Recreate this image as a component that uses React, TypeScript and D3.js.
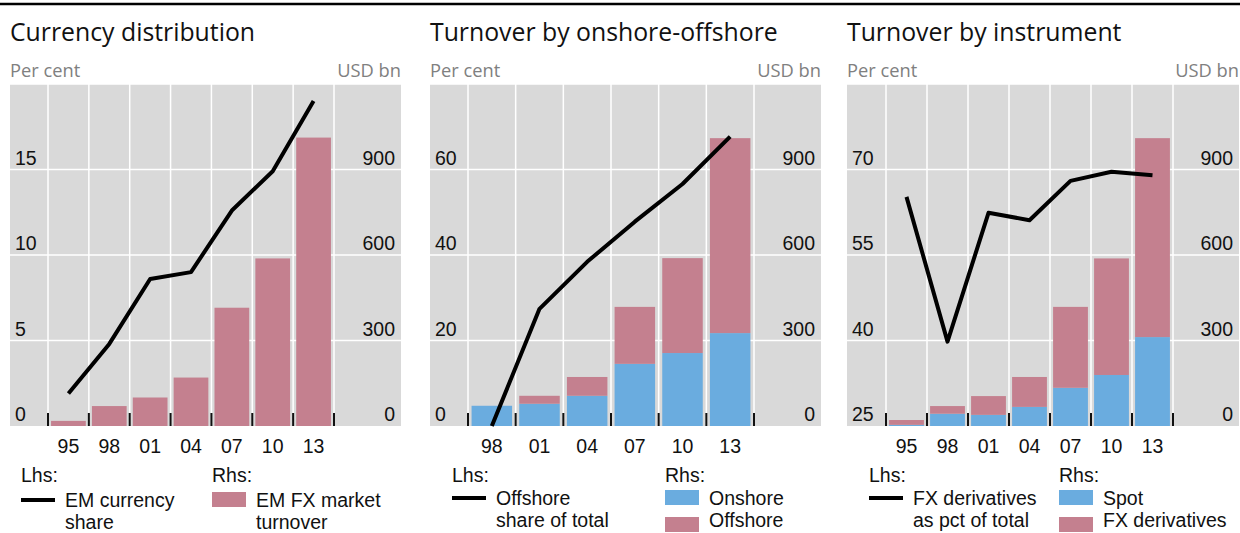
import React from "react";
import * as d3 from "d3";

// ---- Data ----
const cats1 = ["95", "98", "01", "04", "07", "10", "13"];
const emShare = [1.9, 4.8, 8.6, 9.0, 12.6, 14.9, 19.0];
const emTurnover = [18, 70, 100, 170, 415, 588, 1012];

const cats2 = ["98", "01", "04", "07", "10", "13"];
const offshoreShare = [0, 27.4, 38.4, 47.8, 56.6, 67.7];
const onshore = [71, 78, 106, 218, 256, 326];
const offshore = [0, 28, 66, 200, 333, 684];

const cats3 = ["95", "98", "01", "04", "07", "10", "13"];
const fxDerivShare = [65.2, 39.8, 62.4, 61.1, 68.0, 69.6, 69.0];
const spot = [4, 43, 39, 67, 134, 179, 312];
const fxDeriv = [17, 27, 66, 105, 284, 409, 698];

const lhsTicks1 = [0, 5, 10, 15];
const lhsTicks2 = [0, 20, 40, 60];
const lhsTicks3 = [25, 40, 55, 70];
const rhsTicks = [0, 300, 600, 900];

const titles = ["Currency distribution", "Turnover by onshore-offshore", "Turnover by instrument"];

// ---- Styles ----
const PINK = "#c4808f";
const BLUE = "#6aacdf";
const BG = "#d9d9d9";
const AX_FONT = "'Liberation Sans', Arial, sans-serif";
const TITLE_FONT = "'Open Sans', sans-serif";
const FS = 19.5;

const TOP = 84;
const BOTTOM = 426;

type Series = { values: number[]; color: string };
type Panel = {
  title: string;
  left: number;
  right: number;
  bandStart: number;
  bandEnd: number;
  cats: string[];
  lhsDomain: [number, number];
  lhsTicks: number[];
  line: number[];
  stacks: Series[];
  legend: {
    lhsX: number;
    rhsX: number;
    lineLabel: string[];
    items: { color: string; label: string[] }[];
    textY: number;
  };
};

const panels: Panel[] = [
  {
    title: titles[0],
    left: 10,
    right: 401,
    bandStart: 48,
    bandEnd: 334,
    cats: cats1,
    lhsDomain: [0, 20],
    lhsTicks: lhsTicks1,
    line: emShare,
    stacks: [{ values: emTurnover, color: PINK }],
    legend: {
      lhsX: 21,
      rhsX: 212,
      lineLabel: ["EM currency", "share"],
      items: [{ color: PINK, label: ["EM FX market", "turnover"] }],
      textY: 507,
    },
  },
  {
    title: titles[1],
    left: 430,
    right: 821,
    bandStart: 468,
    bandEnd: 754,
    cats: cats2,
    lhsDomain: [0, 80],
    lhsTicks: lhsTicks2,
    line: offshoreShare,
    stacks: [
      { values: onshore, color: BLUE },
      { values: offshore, color: PINK },
    ],
    legend: {
      lhsX: 452,
      rhsX: 665,
      lineLabel: ["Offshore", "share of total"],
      items: [
        { color: BLUE, label: ["Onshore"] },
        { color: PINK, label: ["Offshore"] },
      ],
      textY: 505,
    },
  },
  {
    title: titles[2],
    left: 847,
    right: 1239,
    bandStart: 886,
    bandEnd: 1173,
    cats: cats3,
    lhsDomain: [25, 85],
    lhsTicks: lhsTicks3,
    line: fxDerivShare,
    stacks: [
      { values: spot, color: BLUE },
      { values: fxDeriv, color: PINK },
    ],
    legend: {
      lhsX: 869,
      rhsX: 1059,
      lineLabel: ["FX derivatives", "as pct of total"],
      items: [
        { color: BLUE, label: ["Spot"] },
        { color: PINK, label: ["FX derivatives"] },
      ],
      textY: 505,
    },
  },
];

function PanelView({ p }: { p: Panel }) {
  const pad = 0.15;
  const x = d3
    .scaleBand<string>()
    .domain(p.cats)
    .range([p.bandStart, p.bandEnd])
    .paddingInner(pad)
    .paddingOuter(pad / 2);
  const step = x.step();
  const yL = d3.scaleLinear().domain(p.lhsDomain).range([BOTTOM, TOP]);
  const yR = d3.scaleLinear().domain([0, 1200]).range([BOTTOM, TOP]);

  const boundaries = d3.range(p.cats.length + 1).map((i) => p.bandStart + i * step);

  const stackData = p.cats.map((c, i) => {
    const o: any = { cat: c };
    p.stacks.forEach((s, k) => (o["s" + k] = s.values[i]));
    return o;
  });
  const stacked = d3.stack<any>().keys(p.stacks.map((_, k) => "s" + k))(stackData);

  const lineGen = d3
    .line<number>()
    .x((_, i) => (x(p.cats[i]) as number) + x.bandwidth() / 2)
    .y((v) => yL(v));

  const gridYs = [...p.lhsTicks.filter((t) => t !== p.lhsDomain[0]), p.lhsDomain[1]];

  return (
    <g>
      <text x={p.left} y={41} fontFamily={TITLE_FONT} fontSize={24.8} fill="#111">
        {p.title}
      </text>
      <text x={p.left} y={77} fontFamily={TITLE_FONT} fontSize={18.3} fill="#808080">
        Per cent
      </text>
      <text x={p.right} y={77} fontFamily={TITLE_FONT} fontSize={18.3} fill="#808080" textAnchor="end">
        USD bn
      </text>
      <rect x={p.left} y={TOP} width={p.right - p.left} height={BOTTOM - TOP} fill={BG} />
      {gridYs.map((t) => (
        <line key={"h" + t} x1={p.left} x2={p.right} y1={yL(t)} y2={yL(t)} stroke="#fff" strokeWidth={1.5} />
      ))}
      {boundaries.map((bx, i) => (
        <line key={"v" + i} x1={bx} x2={bx} y1={TOP} y2={BOTTOM} stroke="#fff" strokeWidth={1.5} />
      ))}
      {stacked.map((layer, k) => (
        <g key={"l" + k}>
          {layer.map((d, i) => (
            <rect
              key={i}
              x={x(p.cats[i])}
              width={x.bandwidth()}
              y={yR(d[1])}
              height={Math.max(0, yR(d[0]) - yR(d[1]))}
              fill={p.stacks[k].color}
            />
          ))}
        </g>
      ))}
      {boundaries.map((bx, i) => (
        <line key={"t" + i} x1={bx} x2={bx} y1={BOTTOM - 13} y2={BOTTOM} stroke="#111" strokeWidth={2} />
      ))}
      <path d={lineGen(p.line) || ""} fill="none" stroke="#000" strokeWidth={4} strokeLinejoin="round" />
      {p.lhsTicks.map((t) => (
        <text key={"ll" + t} x={p.left + 5} y={yL(t) - 5} fontFamily={AX_FONT} fontSize={FS} fill="#111">
          {t}
        </text>
      ))}
      {rhsTicks.map((t) => (
        <text
          key={"rl" + t}
          x={p.right - 6}
          y={yR(t) - 5}
          fontFamily={AX_FONT}
          fontSize={FS}
          fill="#111"
          textAnchor="end"
        >
          {t}
        </text>
      ))}
      {p.cats.map((c) => (
        <text
          key={"c" + c}
          x={(x(c) as number) + x.bandwidth() / 2}
          y={453}
          fontFamily={AX_FONT}
          fontSize={FS}
          fill="#111"
          textAnchor="middle"
        >
          {c}
        </text>
      ))}
      {/* Legend */}
      <g fontFamily={AX_FONT} fontSize={FS} fill="#111">
        <text x={p.legend.lhsX} y={482}>Lhs:</text>
        <line
          x1={p.legend.lhsX}
          x2={p.legend.lhsX + 34}
          y1={p.legend.textY - 7}
          y2={p.legend.textY - 7}
          stroke="#000"
          strokeWidth={4}
        />
        {p.legend.lineLabel.map((s, i) => (
          <text key={"ln" + i} x={p.legend.lhsX + 44} y={p.legend.textY + i * 22}>
            {s}
          </text>
        ))}
        <text x={p.legend.rhsX} y={482}>Rhs:</text>
        {p.legend.items.map((it, k) => (
          <g key={"it" + k}>
            <rect
              x={p.legend.rhsX}
              y={p.legend.textY - 15 + k * 27}
              width={34}
              height={15}
              fill={it.color}
            />
            {it.label.map((s, i) => (
              <text key={i} x={p.legend.rhsX + 44} y={p.legend.textY + k * 22 + i * 22}>
                {s}
              </text>
            ))}
          </g>
        ))}
      </g>
    </g>
  );
}

export default function App() {
  return (
    <svg
      width={1240}
      height={533}
      style={{ position: "absolute", left: 0, top: 0, background: "#fff" }}
    >
      <line x1={0} x2={1240} y1={4} y2={4} stroke="#000" strokeWidth={2.5} />
      {panels.map((p, i) => (
        <PanelView key={i} p={p} />
      ))}
    </svg>
  );
}
